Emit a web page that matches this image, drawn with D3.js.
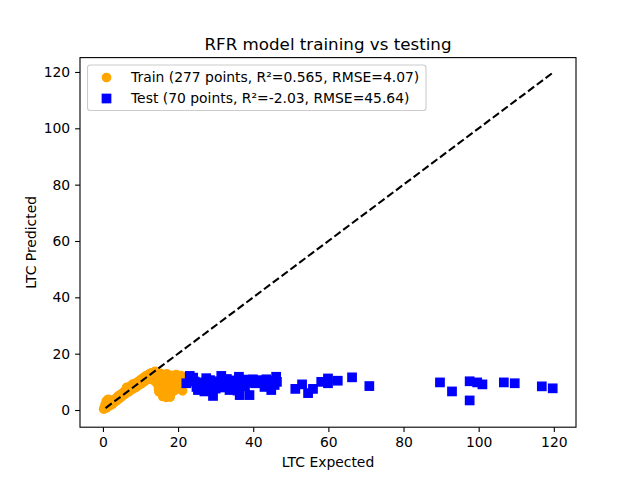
<!DOCTYPE html>
<html>
<head>
<meta charset="utf-8">
<script src="https://cdn.jsdelivr.net/npm/d3@7"></script>
<style>
  html, body { margin: 0; padding: 0; background: #fff; }
  svg { display: block; font-family: "DejaVu Sans", sans-serif; }
</style>
</head>
<body>
<svg id="chart" width="640" height="480"></svg>
<script>
// ---- data ----
const trainExpected = [0.2,0.4,0.5,0.6,0.8,0.9,1.0,1.1,1.3,1.4,1.6,1.8,1.9,2.1,2.3,2.5,2.6,2.8,3.0,3.1,3.3,3.5,3.7,3.9,4.0,4.2,4.4,4.6,4.8,5.0,5.2,5.4,5.6,5.8,6.0,6.1,6.3,6.5,6.7,6.9,7.1,7.3,7.5,7.7,7.9,8.1,8.3,8.5,8.7,8.9,9.1,9.3,9.5,9.7,9.9,10.1,10.3,10.5,10.7,10.9,11.1,11.3,11.5,11.7,11.9,12.1,12.3,12.5,12.7,12.9,13.1,13.3,13.5,13.7,13.9,14.1,
  14.3,14.5,14.6,14.8,14.9,15.0,15.2,15.3,15.5,15.6,15.8,16.0,16.1,16.3,16.5,16.6,16.8,17.0,17.1,17.3,17.5,17.6,17.8,18.0,18.1,18.3,18.5,18.6,18.8,19.0,19.2,19.3,19.5,19.7,19.9,20.1,20.3,20.5,20.8,21.0,21.2,21.4,16.8,15.9,17.9];
const trainPredicted = [0.3,1.0,0.5,2.0,1.2,3.2,0.8,2.5,1.6,3.8,2.2,1.5,3.0,2.4,3.5,2.0,3.0,2.6,3.6,2.8,4.0,3.2,4.4,3.6,4.9,4.0,5.2,4.3,5.6,4.8,6.0,5.2,6.3,5.6,7.0,5.9,8.0,6.4,7.4,6.5,8.2,7.0,8.6,7.3,9.2,7.6,8.6,9.4,8.0,9.6,8.4,10.0,8.8,10.4,9.2,10.8,9.4,11.2,9.8,11.5,10.2,12.0,10.6,12.2,10.9,12.6,11.2,12.9,11.0,13.2,11.8,10.6,13.4,12.2,13.7,11.6,
  9.5,12.8,10.8,7.5,6.5,11.9,9.0,13.0,8.2,6.0,10.5,12.4,7.2,9.8,5.5,11.2,8.5,12.8,6.8,10.0,7.8,5.0,11.5,9.2,12.3,6.2,10.6,8.0,12.0,9.6,7.0,11.0,12.6,8.6,10.2,11.8,9.0,7.6,12.2,10.4,6.8,11.4,4.5,4.8,4.6];

const testExpected = [22.2,23.1,23.8,24.4,24.9,25.3,25.8,26.6,27.0,27.5,28.0,28.5,29.3,29.3,30.0,30.4,31.0,31.5,32.0,32.4,33.0,33.7,34.2,34.8,35.3,36.2,36.4,36.8,37.3,37.8,38.2,39.0,39.4,39.9,40.5,41.1,41.7,42.3,42.9,43.5,44.1,44.8,45.2,45.7,46.1,46.3,24.0,27.8,35.8,43.0,
  51.2,53.0,54.6,55.9,58.1,59.9,59.9,62.5,66.3,70.9,
  89.7,92.9,97.6,97.6,99.6,101.0,106.7,109.6,116.8,119.7];
const testPredicted = [9.5,12.1,10.6,10.1,8.2,7.1,9.8,8.9,6.6,11.3,9.5,10.6,5.0,8.9,7.6,10.2,9.0,12.1,8.0,10.1,11.0,7.1,8.9,10.5,9.2,11.8,5.3,9.7,10.8,8.4,10.6,5.3,9.8,10.9,9.5,10.2,10.6,9.8,10.1,10.9,9.4,7.1,10.3,8.9,11.8,10.0,11.5,7.4,6.9,8.2,
  7.5,9.1,6.0,7.5,10.0,11.2,9.5,10.4,11.6,8.5,
  9.8,6.6,10.2,3.4,9.8,9.1,9.8,9.5,8.4,7.7];

const identityLine = [0.7, 119.7];
const xTicks = [0, 20, 40, 60, 80, 100, 120];
const yTicks = [0, 20, 40, 60, 80, 100, 120];
const legendLabels = ["Train (277 points, R\u00b2=0.565, RMSE=4.07)", "Test (70 points, R\u00b2=-2.03, RMSE=45.64)"];
const titleText = "RFR model training vs testing";
const xLabelText = "LTC Expected";
const yLabelText = "LTC Predicted";

// ---- layout ----
const L = 80, R = 576, T = 57.6, B = 427.2;
const svg = d3.select("#chart");

const x = d3.scaleLinear().domain([-6.1, 125.9]).range([L, R]);
const y = d3.scaleLinear().domain([-6.1, 125.1]).range([B, T]);

const train = trainExpected.map((v, i) => [v, trainPredicted[i]]);
const test = testExpected.map((v, i) => [v, testPredicted[i]]);

const edgeW = 1.39;

// train points
svg.append("g").selectAll("circle").data(train).join("circle")
  .attr("cx", d => x(d[0])).attr("cy", d => y(d[1]))
  .attr("r", 4.17).attr("fill", "orange")
  .attr("stroke", "orange").attr("stroke-width", edgeW);

// test points
const sq = 8.33;
svg.append("g").selectAll("rect").data(test).join("rect")
  .attr("x", d => x(d[0]) - sq / 2).attr("y", d => y(d[1]) - sq / 2)
  .attr("width", sq).attr("height", sq).attr("fill", "blue")
  .attr("stroke", "blue").attr("stroke-width", edgeW);

// identity dashed line
svg.append("line")
  .attr("x1", x(identityLine[0])).attr("y1", y(identityLine[0]))
  .attr("x2", x(identityLine[1])).attr("y2", y(identityLine[1]))
  .attr("stroke", "black").attr("stroke-width", 2.08)
  .attr("stroke-dasharray", "7.7,3.3");

// axes
const xAxis = d3.axisBottom(x).tickValues(xTicks).tickSize(4.9).tickPadding(4.9).tickFormat(d3.format("d"));
const yAxis = d3.axisLeft(y).tickValues(yTicks).tickSize(4.9).tickPadding(4.9).tickFormat(d3.format("d"));

const gx = svg.append("g").attr("transform", `translate(0,${B})`).call(xAxis);
const gy = svg.append("g").attr("transform", `translate(${L},0)`).call(yAxis);
[gx, gy].forEach(g => {
  g.select(".domain").remove();
  g.selectAll(".tick line").attr("stroke", "black").attr("stroke-width", 1.1);
  g.selectAll(".tick text").attr("fill", "black").style("font-size", "13.9px")
    .style("font-family", "'DejaVu Sans', sans-serif");
});

// spines
svg.append("rect").attr("x", L).attr("y", T).attr("width", R - L).attr("height", B - T)
  .attr("fill", "none").attr("stroke", "black").attr("stroke-width", 1.1);

// title and labels
svg.append("text").attr("x", (L + R) / 2).attr("y", 49.5).attr("text-anchor", "middle")
  .style("font-size", "16.7px").text(titleText);
svg.append("text").attr("x", (L + R) / 2).attr("y", 467).attr("text-anchor", "middle")
  .style("font-size", "13.9px").text(xLabelText);
svg.append("text").attr("transform", `translate(35.5,${(T + B) / 2}) rotate(-90)`)
  .attr("text-anchor", "middle").style("font-size", "13.9px").text(yLabelText);

// legend
const lg = svg.append("g");
lg.append("rect").attr("x", 87.5).attr("y", 65).attr("width", 338.5).attr("height", 45.5)
  .attr("rx", 2.8).attr("fill", "white").attr("fill-opacity", 0.8)
  .attr("stroke", "#cccccc").attr("stroke-width", 1.1);
lg.append("circle").attr("cx", 106.5).attr("cy", 77.5).attr("r", 4.17).attr("fill", "orange")
  .attr("stroke", "orange").attr("stroke-width", edgeW);
lg.append("rect").attr("x", 106.5 - sq / 2).attr("y", 98.5 - sq / 2).attr("width", sq).attr("height", sq)
  .attr("fill", "blue").attr("stroke", "blue").attr("stroke-width", edgeW);
lg.selectAll("text.lbl").data(legendLabels).join("text").attr("class", "lbl")
  .attr("x", 131).attr("y", (d, i) => 82 + i * 21.3)
  .style("font-size", "13.9px").text(d => d);
</script>
</body>
</html>
